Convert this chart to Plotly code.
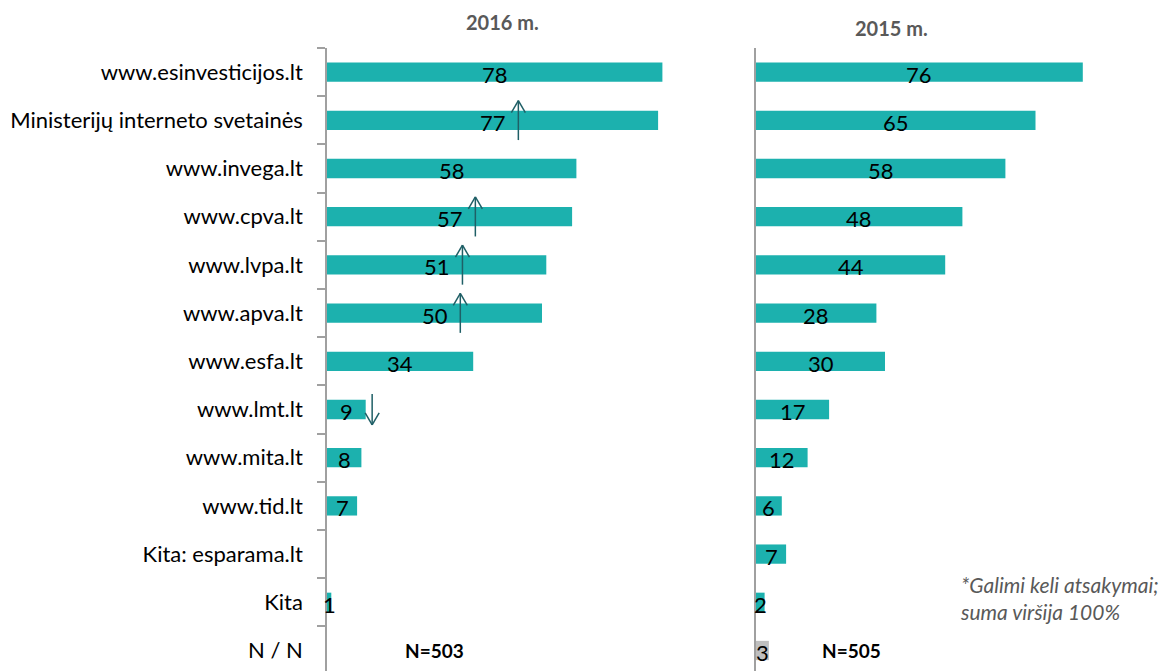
import plotly.graph_objects as go

# ---------------- data ----------------
categories = [
    "www.esinvesticijos.lt",
    "Ministerijų interneto svetainės",
    "www.invega.lt",
    "www.cpva.lt",
    "www.lvpa.lt",
    "www.apva.lt",
    "www.esfa.lt",
    "www.lmt.lt",
    "www.mita.lt",
    "www.tid.lt",
    "Kita: esparama.lt",
    "Kita",
    "N / N",
]
values_2016 = [78, 77, 58, 57, 51, 50, 34, 9, 8, 7, None, 1, None]
values_2015 = [76, 65, 58, 48, 44, 28, 30, 17, 12, 6, 7, 2, 3]
n_2016 = "N=503"
n_2015 = "N=505"
title_2016 = "2016 m."
title_2015 = "2015 m."
footnote = "*Galimi keli atsakymai;<br>suma viršija 100%"
# significant-change markers for 2016 (category, direction)
change_cats = ["Ministerijų interneto svetainės", "www.cpva.lt", "www.lvpa.lt", "www.apva.lt", "www.lmt.lt"]
change_dirs = ["up", "up", "up", "up", "down"]

# ---------------- style ----------------
PAGE = 8                      # browser default body margin
W, H = 1168 - PAGE, 671 - PAGE
TOP = 48                      # top of plot area in the screenshot
PLOT_H = 671 - TOP
TEAL = "#1CB1AE"
GREY_BAR = "#BFBFBF"
AXIS = "#A0A0A0"
ARROW = "#1F5F66"
FONT = "Lato"
PX_PER_UNIT = 4.3
ROW_PX = 48.2
L0, L1 = 327, 740
R0, R1 = 756, 1168


def fx(px):
    return (px - PAGE) / W


def fy(py):
    return 1 - (py - TOP) / PLOT_H


colors_2015 = [GREY_BAR if c == "N / N" else TEAL for c in categories]

fig = go.Figure()
fig.add_trace(go.Bar(
    y=categories, x=values_2016, orientation="h", width=0.4,
    marker=dict(color=TEAL, line=dict(width=0)),
    xaxis="x", yaxis="y", hoverinfo="x+y", showlegend=False,
))
fig.add_trace(go.Bar(
    y=categories, x=values_2015, orientation="h", width=0.4,
    marker=dict(color=colors_2015, line=dict(width=0)),
    xaxis="x2", yaxis="y2", hoverinfo="x+y", showlegend=False,
))

annotations = []
for xr, yr, vals in (("x", "y", values_2016), ("x2", "y2", values_2015)):
    for c, v in zip(categories, vals):
        if v is None:
            continue
        annotations.append(dict(
            x=v / 2, y=c, xref=xr, yref=yr, text=str(v), showarrow=False,
            font=dict(family=FONT, size=22, color="#000000"), yshift=-2,
        ))

# titles
annotations.append(dict(x=fx(502), y=fy(22), xref="paper", yref="paper", yanchor="middle",
                        text=f"<b>{title_2016}</b>", showarrow=False,
                        font=dict(family=FONT, size=20, color="#595959")))
annotations.append(dict(x=fx(930), y=fy(28), xref="paper", yref="paper", yanchor="middle",
                        text=f"<b>{title_2015}</b>", showarrow=False,
                        font=dict(family=FONT, size=20, color="#595959")))
# N labels
annotations.append(dict(x=fx(434), y="N / N", xref="paper", yref="y", text=f"<b>{n_2016}</b>",
                        showarrow=False, font=dict(family=FONT, size=19, color="#000000")))
annotations.append(dict(x=fx(883), y="N / N", xref="paper", yref="y", text=f"<b>{n_2015}</b>",
                        showarrow=False, font=dict(family=FONT, size=19, color="#000000")))
# footnote
annotations.append(dict(x=fx(958), y=fy(598), xref="paper", yref="paper", yanchor="middle",
                        text=f"<i>{footnote}</i>", showarrow=False, xanchor="left", align="left",
                        font=dict(family=FONT, size=21, color="#595959")))

# change arrows
shapes = []
half_w = 7 / PX_PER_UNIT
head_h = 12 / ROW_PX
for c, d in zip(change_cats, change_dirs):
    i = categories.index(c)
    v = values_2016[i]
    x = v / 2 + 6
    half_len = 0.41 if d == "up" else 0.32
    top, bot = i - half_len, i + half_len
    line = dict(color=ARROW, width=1.5)
    shapes.append(dict(type="line", xref="x", yref="y", x0=x, x1=x, y0=top, y1=bot, line=line))
    tip = top if d == "up" else bot
    arm = tip + head_h if d == "up" else tip - head_h
    shapes.append(dict(type="line", xref="x", yref="y", x0=x - half_w, x1=x, y0=arm, y1=tip, line=line))
    shapes.append(dict(type="line", xref="x", yref="y", x0=x, x1=x + half_w, y0=tip, y1=arm, line=line))

yrange = [-0.5 + PLOT_H / ROW_PX, -0.5]

fig.update_layout(
    width=W, height=H,
    margin=dict(l=0, r=0, t=TOP - PAGE, b=0, autoexpand=False),
    paper_bgcolor="white", plot_bgcolor="white",
    font=dict(family=FONT, color="#000000"),
    xaxis=dict(domain=[fx(L0), fx(L1)], range=[0, (L1 - L0) / PX_PER_UNIT], visible=False, fixedrange=True),
    xaxis2=dict(domain=[fx(R0), min(1, fx(R1))], range=[0, (R1 - R0) / PX_PER_UNIT], visible=False,
                fixedrange=True),
    yaxis=dict(type="category", categoryorder="array", categoryarray=categories, range=yrange,
               anchor="x", showline=True, linecolor=AXIS, linewidth=1.5, ticks="outside", ticklen=8,
               tickcolor=AXIS, tickwidth=1.5, tickson="boundaries", showgrid=False, zeroline=False,
               tickfont=dict(family=FONT, size=22, color="#000000"), ticklabelstandoff=18,
               automargin=False, fixedrange=True),
    yaxis2=dict(type="category", categoryorder="array", categoryarray=categories, range=yrange,
                anchor="x2", showline=True, linecolor=AXIS, linewidth=1.5, ticks="",
                showticklabels=False, showgrid=False, zeroline=False, fixedrange=True),
    annotations=annotations,
    shapes=shapes,
)

fig.write_html("out.html")
